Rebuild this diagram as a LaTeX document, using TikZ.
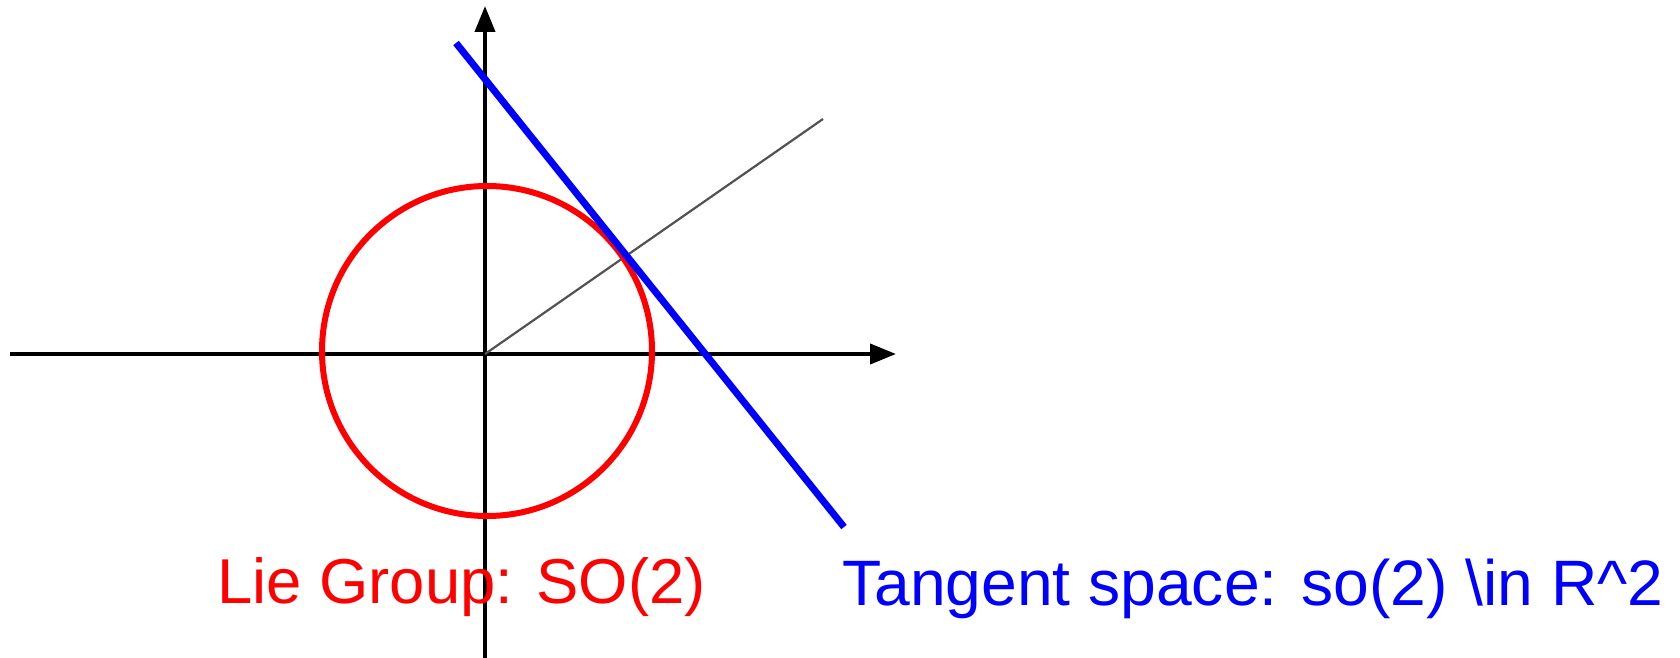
\documentclass[tikz,border=0pt]{standalone}
\usepackage{fontspec}
\setmainfont{Liberation Sans}
\usetikzlibrary{arrows.meta}
\begin{document}
\begin{tikzpicture}[x=1pt,y=-1pt,
  axis/.style={draw=black,line width=4pt,-{Triangle[length=26pt,width=20pt]}},
  group/.style={draw=red,line width=6pt},
  tangent/.style={draw=blue,line width=7pt},
  ray/.style={draw=black!68,line width=2.2pt},
  lbl/.style={anchor=base west,inner sep=0pt}]
\useasboundingbox (0,0) rectangle (1680,658);
\coordinate (O) at (485,354);
\coordinate (xs) at (10,354);
\coordinate (xe) at (896,354);
\coordinate (ys) at (485,660);
\coordinate (ye) at (485,6);
\coordinate (C) at (487,351);
\coordinate (re) at (823,119);
\coordinate (ts) at (456,43);
\coordinate (te) at (844,527);
\draw[axis] (xs) -- (xe);
\draw[axis] (ys) -- (ye);
\draw[ray] (O) -- (re);
\draw[group] (C) circle[radius=165];
\draw[tangent] (ts) -- (te);
\node[lbl,text=red,font=\fontsize{63.4}{75}\selectfont] (lg) at (217,603) {Lie Group: SO(2)};
\node[lbl,text=blue,font=\fontsize{64.2}{75}\selectfont] (tg) at (842,605) {Tangent space: so(2) \textbackslash in R\textasciicircum 2};
\end{tikzpicture}
\end{document}
